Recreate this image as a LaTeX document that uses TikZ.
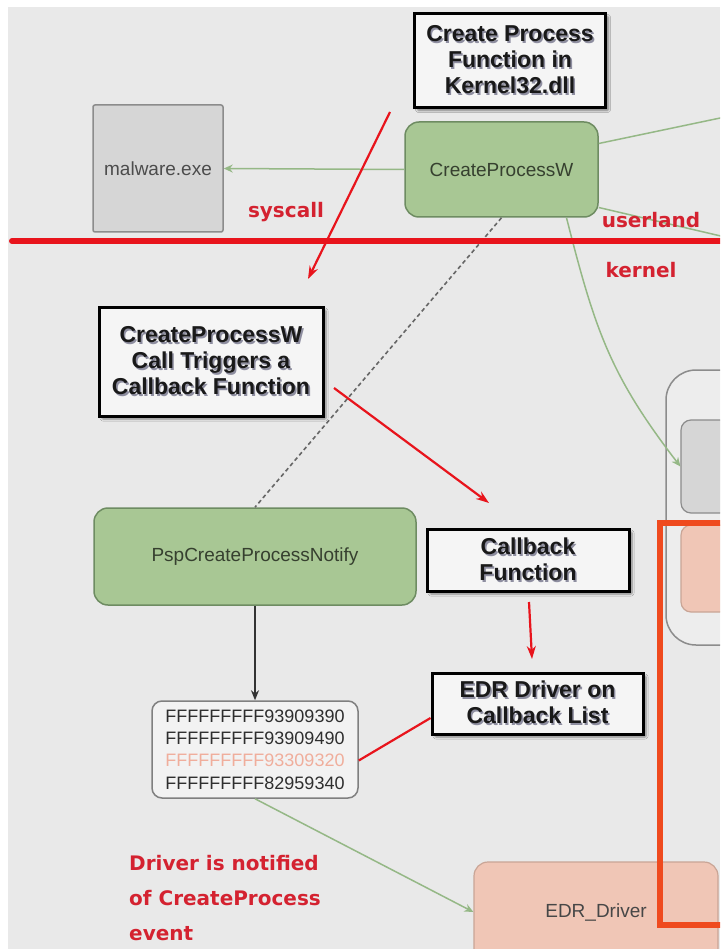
\documentclass[tikz,border=0pt]{standalone}
\usepackage{fontspec}
\setmainfont{Liberation Sans}
\newfontfamily\handfont{DejaVu Sans}
\usetikzlibrary{arrows.meta,shadows.blur}
\definecolor{bgc}{HTML}{E9E9E9}
\definecolor{grayb}{HTML}{8C8C8C}
\definecolor{graybox}{HTML}{D6D6D6}
\definecolor{gfill}{HTML}{A8C794}
\definecolor{gborder}{HTML}{6E8C62}
\definecolor{gtext}{HTML}{36402F}
\definecolor{gline}{HTML}{95B886}
\definecolor{pinkfill}{HTML}{F0C6B6}
\definecolor{pinkb}{HTML}{C9A596}
\definecolor{pinktxt}{HTML}{F0AE9C}
\definecolor{redc}{HTML}{E8141C}
\definecolor{handc}{HTML}{D42230}
\definecolor{orangec}{HTML}{EF4A1E}
\definecolor{txtshadow}{HTML}{8E8EA0}
\definecolor{contfill}{HTML}{EDEDED}
\definecolor{callfill}{HTML}{F5F5F5}
\newcommand\shd[1]{\makebox[0pt][l]{\hspace{1.6pt}\raisebox{-1.6pt}{\textcolor{txtshadow}{#1}}}#1}
\begin{document}
\begin{tikzpicture}[x=1pt,y=-1pt,
  callout/.style={draw=black, line width=3pt, fill=callfill,
    blur shadow={shadow xshift=3pt,shadow yshift=-3pt,shadow opacity=45,shadow blur steps=6,shadow blur extra rounding=1pt},
    align=center, font=\fontsize{23}{26}\selectfont\bfseries, text=black!90, inner sep=0pt},
  gnode/.style={draw=gborder, fill=gfill, line width=1.5pt, rounded corners=14pt,
    font=\fontsize{19}{22}\selectfont, text=gtext, inner sep=0pt},
  greenline/.style={draw=gline, line width=1.5pt},
  greenarrow/.style={draw=gline, line width=1.5pt, -{Stealth[length=9pt,width=8pt]}},
  redarrow/.style={draw=redc, line width=2.2pt, -{Stealth[length=13pt,width=9pt]}},
  hand/.style={text=handc, font=\fontsize{20}{35}\selectfont\handfont\bfseries, inner sep=0pt},
]
\clip (0,0) rectangle (720,949);
\fill[white] (0,0) rectangle (720,949);
\fill[bgc] (8,7) rectangle (720,949);

% right-hand group
\node[draw=grayb, line width=1.5pt, fill=contfill, rounded corners=30pt,
  minimum width=150pt, minimum height=275pt, inner sep=0pt] (grp) at (741,507.5) {};
\node[draw=grayb, line width=1.2pt, fill=graybox, rounded corners=10pt,
  minimum width=130pt, minimum height=93pt, inner sep=0pt] (gbox) at (746,466.5) {};
\node[draw=pinkb, line width=1.2pt, fill=pinkfill, rounded corners=10pt,
  minimum width=130pt, minimum height=87pt, inner sep=0pt] (pbox) at (746,568.5) {};

% main nodes
\node[draw=grayb, fill=graybox, line width=1.5pt, rounded corners=2pt,
  minimum width=130pt, minimum height=127pt, inner sep=0pt,
  font=\fontsize{19}{22}\selectfont, text=black!70] (mal) at (158,168.5) {malware.exe};
\node[gnode, minimum width=193pt, minimum height=95pt] (cpw) at (501.5,169.5) {CreateProcessW};
\node[gnode, minimum width=322pt, minimum height=97pt] (psp) at (255,556.5) {PspCreateProcessNotify};
\node[draw=black!50, fill=black!5, line width=1.5pt, rounded corners=10pt,
  minimum width=206pt, minimum height=97pt, inner sep=0pt, align=center,
  font=\fontsize{18}{22.3}\selectfont, text=black!82] (lst) at (255,749.5)
  {FFFFFFFFF93909390\\FFFFFFFFF93909490\\\textcolor{pinktxt}{FFFFFFFFF93309320}\\FFFFFFFFF82959340};
\node[draw=pinkb, line width=1.2pt, fill=pinkfill, rounded corners=14pt,
  minimum width=244pt, minimum height=100pt, inner sep=0pt,
  font=\fontsize{19}{22}\selectfont, text=black!72] (edr) at (596,912) {EDR\_Driver};

% connectors
\coordinate (r1) at (725,117);
\coordinate (r2) at (725,237);
\draw[greenarrow] (cpw.west) -- (mal.east);
\draw[greenline] ([yshift=26pt]cpw.east) -- (r1);
\draw[greenline] ([yshift=-38pt]cpw.east) -- (r2);
\draw[greenarrow] ([xshift=65pt]cpw.south) .. controls (595,330) and (610,375) .. (gbox.west);
\draw[draw=black!60, line width=1.6pt, dash pattern=on 4pt off 3pt] (cpw.south) -- (psp.north);
\draw[draw=black!80, line width=1.5pt, -{Stealth[length=10pt,width=8pt]}] (psp.south) -- (lst.north);
\draw[greenarrow] (lst.south) -- (edr.west);

% highlight
\node[draw=orangec, line width=6pt, minimum width=120pt, minimum height=402pt, inner sep=0pt] (hl) at (720,724) {};

% userland / kernel separator
\coordinate (k1) at (12,241);
\coordinate (k2) at (730,241);
\draw[draw=redc, line width=6pt, line cap=round] (k1) -- (k2);

% callouts
\node[callout, minimum width=191pt, minimum height=94pt] (c1) at (510,60.5)
  {\shd{Create Process}\\\shd{Function in}\\\shd{Kernel32.dll}};
\node[callout, minimum width=224pt, minimum height=109pt] (c2) at (211,361.5)
  {\shd{CreateProcessW}\\\shd{Call Triggers a}\\\shd{Callback Function}};
\node[callout, minimum width=202pt, minimum height=62pt] (c3) at (528,560)
  {\shd{Callback}\\\shd{Function}};
\node[callout, minimum width=211pt, minimum height=61pt] (c4) at (537.5,703.5)
  {\shd{EDR Driver on}\\\shd{Callback List}};

% red annotation arrows
\coordinate (a1s) at (390,112);
\coordinate (a1e) at (308,279);
\coordinate (a2s) at (334,388);
\coordinate (a2e) at (489,503);
\coordinate (a3s) at (529,602);
\coordinate (a3e) at (532,659);
\draw[redarrow] (a1s) -- (a1e);
\draw[redarrow] (a2s) -- (a2e);
\draw[redarrow] (a3s) -- (a3e);
\draw[draw=redc, line width=2.2pt] ([yshift=-11pt]lst.east) -- ([yshift=-14.5pt]c4.west);

% hand labels
\node[hand] (sys) at (286,212) {syscall};
\node[hand] (ul) at (651,220) {userland};
\node[hand] (kn) at (641,270) {kernel};
\node[hand, anchor=west, align=left] (drv) at (129,898) {Driver is notified\\of CreateProcess\\event};
\end{tikzpicture}
\end{document}
